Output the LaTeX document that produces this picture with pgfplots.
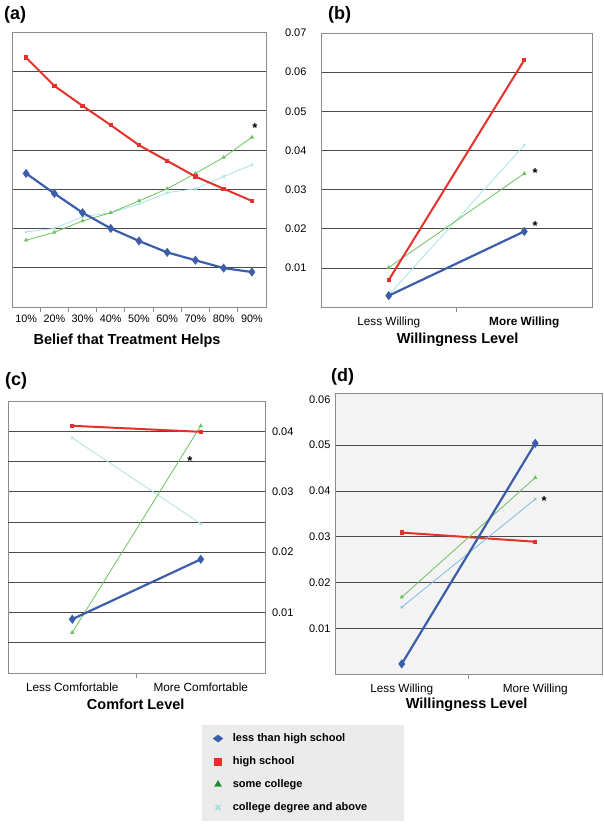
\documentclass[border=0pt]{standalone}
\usepackage{pgfplots}
\pgfplotsset{compat=1.18}
\usepackage{fontspec}
\setmainfont{Liberation Sans}

\definecolor{myblue}{HTML}{3C5DAA}
\definecolor{myred}{HTML}{E4312B}
\definecolor{mygreen}{HTML}{6CC35E}
\definecolor{mycyan}{HTML}{A6E3E3}
\definecolor{mycyand}{HTML}{7DBCE0}
\definecolor{leggreen}{HTML}{1E8C2E}
\definecolor{legcyan}{HTML}{9EDEDE}
\definecolor{frameg}{HTML}{8C8C8C}
\definecolor{gridg}{HTML}{4A4A4A}
\definecolor{legbg}{HTML}{EBEBEB}
\definecolor{panelbg}{HTML}{F3F3F3}

\tikzset{
  starnode/.style={font=\bfseries\fontsize{13}{15}\selectfont, inner sep=0pt},
  panellab/.style={anchor=west, inner sep=0pt, font=\bfseries\fontsize{18}{20}\selectfont},
}

\pgfplotsset{
  panel/.style={
    scale only axis,
    anchor=south west,
    axis line style={draw=frameg, line width=0.9pt},
    ymajorgrids,
    grid style={draw=gridg, line width=0.7pt},
    major tick length=0pt,
    minor tick length=5pt,
    tick align=outside,
    xtick pos=bottom,
    minor tick style={draw=frameg, line width=0.9pt},
    scaled y ticks=false,
    ymin=0,
    xmin=0.5, xmax=2.5,
    xtick={1,2},
    minor xtick={1.5},
    ticklabel style={font=\fontsize{11}{13}\selectfont},
    xticklabel style={anchor=base, yshift=-18.5pt, font=\fontsize{11.8}{14}\selectfont},
    xlabel style={font=\bfseries\fontsize{14.5}{17}\selectfont, anchor=base},
    clip=false,
  },
  sblue/.style={color=myblue, line width=2.2pt, mark=diamond*, mark size=2.8pt},
  sred/.style={color=myred, line width=2pt, mark=square*, mark size=1.2pt},
  sgreen/.style={color=mygreen, line width=0.8pt, mark=triangle*, mark size=1.7pt},
  scyan/.style={color=mycyan, line width=0.8pt, mark=x, mark size=1.7pt, mark options={line width=0.8pt}},
}

\begin{document}
\begin{tikzpicture}
\path (0,0) rectangle (604pt,825pt);

\node[panellab] at (4pt,810pt) {(a)};
\node[panellab] at (328pt,810.5pt) {(b)};
\node[panellab] at (5pt,444.5pt) {(c)};
\node[panellab] at (331pt,448.5pt) {(d)};

% (a)
\begin{axis}[panel, at={(12pt,518pt)}, width=254pt, height=275pt,
  xmin=0.5, xmax=9.5, ymax=0.07,
  xtick={1,...,9},
  xticklabels={10\%,20\%,30\%,40\%,50\%,60\%,70\%,80\%,90\%},
  xticklabel style={yshift=2.5pt, font=\fontsize{10.8}{13}\selectfont},
  minor xtick={1.5,2.5,3.5,4.5,5.5,6.5,7.5,8.5},
  ytick={0.01,0.02,0.03,0.04,0.05,0.06}, yticklabels={},
  xlabel={Belief that Treatment Helps},
  xlabel style={at={(axis description cs:0.453,-0.138)}},
]
\addplot[scyan] coordinates {(1,0.0191) (2,0.0200) (3,0.0230) (4,0.0240) (5,0.0262) (6,0.0291) (7,0.0301) (8,0.0332) (9,0.0362)};
\addplot[sgreen] coordinates {(1,0.0170) (2,0.0190) (3,0.0219) (4,0.0240) (5,0.0270) (6,0.0301) (7,0.0340) (8,0.0381) (9,0.0432)};
\addplot[sred] coordinates {(1,0.0635) (2,0.0563) (3,0.0512) (4,0.0463) (5,0.0412) (6,0.0372) (7,0.0332) (8,0.0301) (9,0.0270)};
\addplot[sblue] coordinates {(1,0.0340) (2,0.0289) (3,0.0240) (4,0.0200) (5,0.0168) (6,0.0139) (7,0.0119) (8,0.0099) (9,0.0089)};
\node[starnode] at (axis cs:9.11,0.0455) {*};
\end{axis}

% (b)
\begin{axis}[panel, at={(321pt,518pt)}, width=271pt, height=274pt,
  ymax=0.07,
  xticklabels={Less Willing,\textbf{More Willing}},
  ytick={0.01,0.02,0.03,0.04,0.05,0.06,0.07},
  yticklabels={0.01,0.02,0.03,0.04,0.05,0.06,0.07},
  yticklabel style={xshift=-11pt},
  xlabel={Willingness Level},
  xlabel style={at={(axis description cs:0.504,-0.135)}},
]
\addplot[scyan] coordinates {(1,0.0031) (2,0.0413)};
\addplot[sgreen] coordinates {(1,0.0101) (2,0.0341)};
\addplot[sred] coordinates {(1,0.0069) (2,0.0631)};
\addplot[sblue] coordinates {(1,0.0029) (2,0.0193)};
\node[starnode] at (axis cs:2.08,0.0343) {*};
\node[starnode] at (axis cs:2.08,0.0208) {*};
\end{axis}

% (c)
\begin{axis}[panel, at={(8pt,152pt)}, width=257pt, height=272pt,
  ymax=0.045,
  xticklabels={Less Comfortable,More Comfortable},
  ytick={0.01,0.02,0.03,0.04},
  yticklabels={0.01,0.02,0.03,0.04},
  extra y ticks={0.005,0.015,0.025,0.035},
  extra y tick labels={},
  yticklabel pos=right,
  yticklabel style={xshift=3.5pt},
  xlabel={Comfort Level},
  xlabel style={at={(axis description cs:0.497,-0.1335)}},
]
\addplot[scyan] coordinates {(1,0.0389) (2,0.0247)};
\addplot[sgreen] coordinates {(1,0.0067) (2,0.0409)};
\addplot[sred] coordinates {(1,0.0409) (2,0.0399)};
\addplot[sblue] coordinates {(1,0.0089) (2,0.0188)};
\node[starnode] at (axis cs:1.916,0.0350) {*};
\end{axis}

% (d)
\begin{axis}[panel, at={(335pt,151pt)}, width=267pt, height=281pt,
  ymax=0.0614,
  axis background/.style={fill=panelbg},
  xticklabels={Less Willing,More Willing},
  ytick={0.01,0.02,0.03,0.04,0.05},
  yticklabels={0.01,0.02,0.03,0.04,0.05},
  extra y ticks={0.06},
  extra y tick labels={0.06},
  extra y tick style={grid=none},
  yticklabel style={xshift=-1pt},
  xlabel={Willingness Level},
  xlabel style={at={(axis description cs:0.493,-0.122)}},
  legend style={at={(axis description cs:-0.498,-0.181)}, anchor=north west,
    fill=legbg, draw=none, font=\bfseries\fontsize{11}{13}\selectfont,
    inner xsep=11pt, inner ysep=6.75pt, row sep=9.5pt,
    /tikz/every odd column/.append style={column sep=8pt}},
  legend cell align=left,
]
\addplot[sred, forget plot] coordinates {(1,0.0309) (2,0.0289)};
\addplot[sgreen, forget plot] coordinates {(1,0.0168) (2,0.0429)};
\addplot[scyan, color=mycyand, forget plot] coordinates {(1,0.0146) (2,0.0382)};
\addplot[sblue, forget plot] coordinates {(1,0.0022) (2,0.0504)};
\node[starnode] at (axis cs:2.066,0.0378) {*};
\addlegendimage{only marks, mark=diamond*, color=myblue, mark size=4pt, mark options={xscale=1.6, yscale=0.9}}
\addlegendentry{less than high school}
\addlegendimage{only marks, mark=square*, color=myred, mark size=3.4pt}
\addlegendentry{high school}
\addlegendimage{only marks, mark=triangle*, color=leggreen, mark size=4pt}
\addlegendentry{some college}
\addlegendimage{only marks, mark=x, color=legcyan, mark size=3.5pt, mark options={line width=1.6pt}}
\addlegendentry{college degree and above\hspace*{24pt}}
\end{axis}
\end{tikzpicture}
\end{document}
